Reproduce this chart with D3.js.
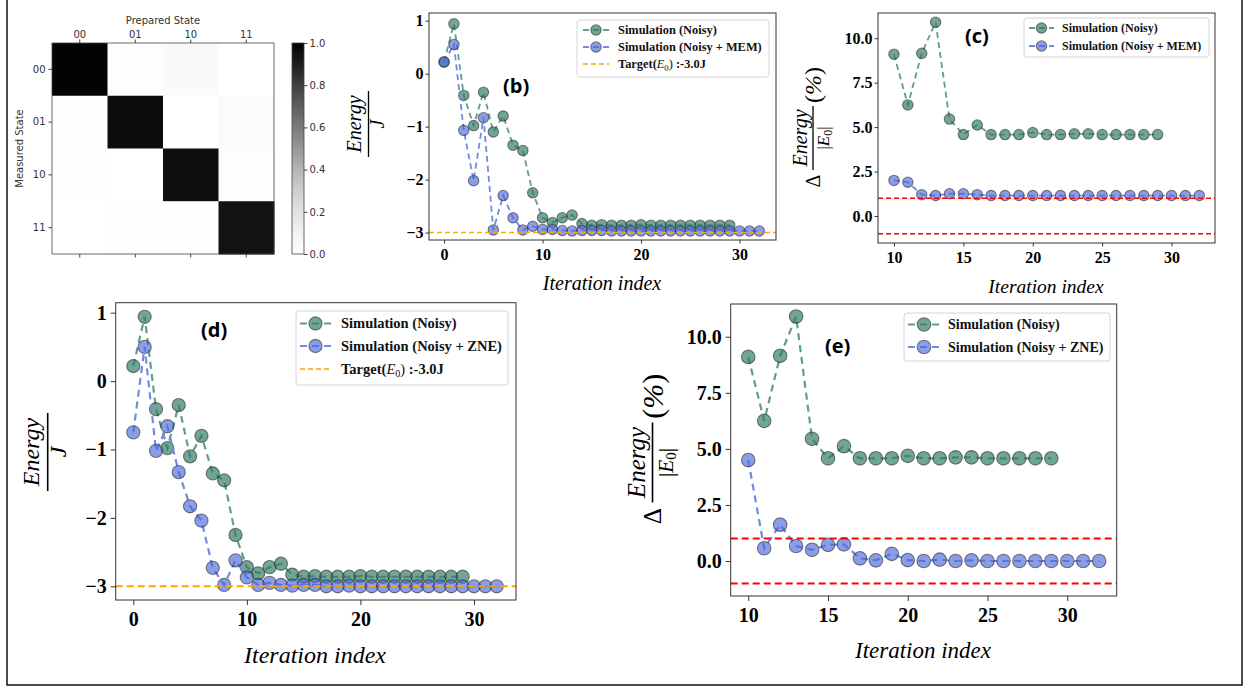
<!DOCTYPE html>
<html><head><meta charset="utf-8">
<script src="https://cdn.jsdelivr.net/npm/d3@7"></script>
<style>body{margin:0;background:#fff} svg{display:block}</style>
</head><body><svg id="fig" width="1247" height="687"></svg>
<script>
// ---------- data ----------
const stateLabels = ["00", "01", "10", "11"];
// rows = measured state, columns = prepared state
const confusion = [
  [0.99, 0.02, 0.04, 0.00],
  [0.01, 0.96, 0.00, 0.03],
  [0.01, 0.00, 0.95, 0.02],
  [0.00, 0.01, 0.01, 0.94]
];
const colorbarTicks = [0, 0.2, 0.4, 0.6, 0.8, 1.0];

const iterations = [0,1,2,3,4,5,6,7,8,9,10,11,12,13,14,15,16,17,18,19,20,21,22,23,24,25,26,27,28,29,30,31,32];
const energyNoisy = [0.22, 0.94, -0.41, -0.98, -0.35, -1.10, -0.80, -1.35, -1.45, -2.25,
  -2.72, -2.81, -2.72, -2.67, -2.83, -2.86, -2.85, -2.86, -2.86, -2.86,
  -2.85, -2.86, -2.86, -2.86, -2.86, -2.86, -2.86, -2.86, -2.86, -2.86];
const energyMEM = [0.22, 0.55, -1.07, -2.02, -0.83, -2.95, -2.30, -2.72, -2.95, -2.88,
  -2.94, -2.94, -2.96, -2.97, -2.96, -2.96, -2.96, -2.97, -2.97, -2.97,
  -2.97, -2.97, -2.97, -2.97, -2.97, -2.97, -2.97, -2.97, -2.97, -2.97, -2.97, -2.97, -2.97];
const energyZNE = [-0.75, 0.50, -1.02, -0.66, -1.33, -1.83, -2.04, -2.73, -2.98, -2.62,
  -2.87, -2.98, -2.95, -2.98, -2.99, -2.98, -2.98, -3.00, -3.00, -2.99,
  -3.00, -3.00, -3.00, -3.00, -3.00, -3.00, -3.00, -3.00, -3.00, -3.00, -3.00, -3.00, -3.00];

const deltaIterations = [10,11,12,13,14,15,16,17,18,19,20,21,22,23,24,25,26,27,28,29,30,31,32];
const deltaNoisy = [9.1, 6.25, 9.15, 10.9, 5.45, 4.58, 5.12, 4.58, 4.58, 4.58,
  4.69, 4.58, 4.58, 4.62, 4.62, 4.58, 4.58, 4.58, 4.58, 4.58];
const deltaMEM = [2.0, 1.9, 1.2, 1.15, 1.25, 1.25, 1.2, 1.15, 1.15, 1.15, 1.15, 1.15,
  1.15, 1.15, 1.15, 1.15, 1.15, 1.15, 1.15, 1.15, 1.15, 1.15, 1.15];
const deltaZNE = [4.5, 0.57, 1.62, 0.67, 0.5, 0.72, 0.74, 0.12, 0.03, 0.32, 0.04, 0.0,
  0.06, 0.0, 0.03, 0.0, 0.0, 0.0, 0.0, 0.0, 0.0, 0.0, 0.0];

const targetEnergy = -3.0;
const toleranceBand = [1, -1];
const energyTicks = [-3, -2, -1, 0, 1];
const iterTicks = [0, 10, 20, 30];
const deltaTicks = [0, 2.5, 5, 7.5, 10];
const deltaIterTicks = [10, 15, 20, 25, 30];

const legendNoisy = "Simulation (Noisy)";
const legendMEM = "Simulation (Noisy + MEM)";
const legendZNE = "Simulation (Noisy + ZNE)";

// ---------- styles ----------
const GREEN = {fill: "#2f7a66", fillOp: 0.68, line: "#5f9e8b"};
const BLUE = {fill: "#4b68d8", fillOp: 0.65, line: "#7389e2"};
const SERIF = "'Liberation Serif', 'Times New Roman', serif";

const svg = d3.select("#fig");
const defs = svg.append("defs");

// ---------- outer frame ----------
svg.append("path").attr("d", "M7,0 V685 H1242 V0")
  .attr("fill", "none").attr("stroke", "#111").attr("stroke-width", 1.5);

// ---------- panel (a): heatmap ----------
(function () {
  const x0 = 52, x1 = 274, y0 = 43, y1 = 254;
  const hx = d3.scaleBand().domain(stateLabels).range([x0, x1]);
  const hy = d3.scaleBand().domain(stateLabels).range([y0, y1]);
  const grey = d3.scaleSequential(d3.interpolateGreys).domain([0, 1]);
  const g = svg.append("g").style("font-family", "'DejaVu Sans', sans-serif");
  const cells = [];
  confusion.forEach((row, i) => row.forEach((v, j) => cells.push({m: stateLabels[i], p: stateLabels[j], v})));
  g.selectAll("rect.cell").data(cells).join("rect").attr("class", "cell")
    .attr("x", d => hx(d.p)).attr("y", d => hy(d.m))
    .attr("width", hx.bandwidth() + 0.5).attr("height", hy.bandwidth() + 0.5)
    .attr("fill", d => grey(d.v));
  g.append("rect").attr("x", x0).attr("y", y0).attr("width", x1 - x0).attr("height", y1 - y0)
    .attr("fill", "none").attr("stroke", "#444").attr("stroke-width", 0.8);

  const top = g.append("g").attr("transform", `translate(0,${y0})`)
    .call(d3.axisTop(hx).tickSize(3.5).tickPadding(2).tickSizeOuter(0));
  const bot = g.append("g").attr("transform", `translate(0,${y1})`)
    .call(d3.axisBottom(hx).tickSize(3.5).tickFormat("").tickSizeOuter(0));
  const left = g.append("g").attr("transform", `translate(${x0},0)`)
    .call(d3.axisLeft(hy).tickSize(3.5).tickPadding(3).tickSizeOuter(0));
  [top, bot, left].forEach(a => {
    a.select(".domain").remove();
    a.selectAll("line").attr("stroke", "#444");
    a.selectAll("text").attr("font-size", 10).attr("fill", "#333").style("font-family", "'DejaVu Sans', sans-serif");
  });
  g.append("text").attr("x", (x0 + x1) / 2).attr("y", 24).attr("text-anchor", "middle")
    .attr("font-size", 10).attr("fill", "#333").text("Prepared State");
  g.append("text").attr("transform", `translate(23,${(y0 + y1) / 2}) rotate(-90)`)
    .attr("text-anchor", "middle").attr("font-size", 10).attr("fill", "#333").text("Measured State");

  // colorbar
  const cbx = 292, cbw = 12;
  const cy = d3.scaleLinear().domain([0, 1]).range([y1, y0]);
  const grad = defs.append("linearGradient").attr("id", "cbgrad")
    .attr("x1", 0).attr("y1", 1).attr("x2", 0).attr("y2", 0);
  d3.range(0, 1.0001, 0.1).forEach(t => grad.append("stop").attr("offset", t).attr("stop-color", grey(t)));
  g.append("rect").attr("x", cbx).attr("y", y0).attr("width", cbw).attr("height", y1 - y0)
    .attr("fill", "url(#cbgrad)").attr("stroke", "#444").attr("stroke-width", 0.8);
  const cba = g.append("g").attr("transform", `translate(${cbx + cbw},0)`)
    .call(d3.axisRight(cy).tickValues(colorbarTicks).tickFormat(d3.format(".1f")).tickSize(3.5).tickPadding(2));
  cba.select(".domain").remove();
  cba.selectAll("line").attr("stroke", "#444");
  cba.selectAll("text").attr("font-size", 10).attr("fill", "#333").style("font-family", "'DejaVu Sans', sans-serif");
})();

// ---------- helpers ----------
function panelTag(txt, x, y) {
  svg.append("text").attr("x", x).attr("y", y).text(txt)
    .style("font-family", "'Open Sans', 'DejaVu Sans', sans-serif").attr("font-weight", 700)
    .attr("font-size", 20).attr("fill", "#000");
}

function linePanel(o) {
  const [bx0, by0, bx1, by1] = o.box;
  const x = d3.scaleLinear().domain(o.xDomain).range([bx0, bx1]);
  const y = d3.scaleLinear().domain(o.yDomain).range([by1, by0]);
  const g = svg.append("g");
  const cid = "clip" + o.id;
  defs.append("clipPath").attr("id", cid).append("rect")
    .attr("x", bx0).attr("y", by0).attr("width", bx1 - bx0).attr("height", by1 - by0);
  const plot = g.append("g").attr("clip-path", `url(#${cid})`);
  o.series.forEach(s => {
    const pts = s.xs.map((xv, i) => [xv, s.ys[i]]);
    plot.append("path").datum(pts)
      .attr("d", d3.line().x(d => x(d[0])).y(d => y(d[1])))
      .attr("fill", "none").attr("stroke", s.style.line).attr("stroke-width", o.lw)
      .attr("stroke-dasharray", o.dash);
    plot.selectAll(null).data(pts).join("circle")
      .attr("cx", d => x(d[0])).attr("cy", d => y(d[1])).attr("r", o.r)
      .attr("fill", s.style.fill).attr("fill-opacity", s.style.fillOp)
      .attr("stroke", "#222").attr("stroke-opacity", 0.55).attr("stroke-width", 1.1);
  });
  o.hlines.forEach(h => {
    plot.append("line").attr("x1", bx0).attr("x2", bx1).attr("y1", y(h.v)).attr("y2", y(h.v))
      .attr("stroke", h.color).attr("stroke-width", h.w).attr("stroke-dasharray", h.dash);
  });
  g.append("rect").attr("x", bx0).attr("y", by0).attr("width", bx1 - bx0).attr("height", by1 - by0)
    .attr("fill", "none").attr("stroke", "#333").attr("stroke-width", 1);
  const xa = g.append("g").attr("transform", `translate(0,${by1})`)
    .call(d3.axisBottom(x).tickValues(o.xTicks).tickFormat(d3.format("d")).tickSize(o.tick).tickPadding(o.xPad).tickSizeOuter(0));
  const ya = g.append("g").attr("transform", `translate(${bx0},0)`)
    .call(d3.axisLeft(y).tickValues(o.yTicks).tickFormat(o.yFmt).tickSize(o.tick).tickPadding(o.yPad).tickSizeOuter(0));
  [xa, ya].forEach(a => {
    a.select(".domain").remove();
    a.selectAll("line").attr("stroke", "#333");
    a.selectAll("text").attr("font-size", o.tfs).attr("font-weight", 700).attr("fill", "#000")
      .style("font-family", SERIF);
  });
  g.append("text").attr("x", o.xl[0]).attr("y", o.xl[1]).attr("text-anchor", "middle")
    .style("font-family", SERIF).attr("font-style", "italic").attr("font-size", o.xl[2])
    .attr("fill", "#000").text("Iteration index");

  // legend
  const L = o.legend;
  g.append("rect").attr("x", L.box[0]).attr("y", L.box[1])
    .attr("width", L.box[2] - L.box[0]).attr("height", L.box[3] - L.box[1])
    .attr("rx", 3).attr("fill", "#fff").attr("fill-opacity", 0.85)
    .attr("stroke", "#d4d4d4").attr("stroke-width", 1);
  L.items.forEach((it, i) => {
    const yy = L.rows[i];
    if (it.kind === "marker") {
      g.append("line").attr("x1", L.h0).attr("x2", L.h1).attr("y1", yy).attr("y2", yy)
        .attr("stroke", it.style.line).attr("stroke-width", o.lw).attr("stroke-dasharray", o.dash);
      g.append("circle").attr("cx", (L.h0 + L.h1) / 2).attr("cy", yy).attr("r", o.r)
        .attr("fill", it.style.fill).attr("fill-opacity", it.style.fillOp)
        .attr("stroke", "#222").attr("stroke-opacity", 0.55).attr("stroke-width", 1.1);
    } else {
      g.append("line").attr("x1", L.h0).attr("x2", L.h1).attr("y1", yy).attr("y2", yy)
        .attr("stroke", it.color).attr("stroke-width", 1.6).attr("stroke-dasharray", "5,3");
    }
    const t = g.append("text").attr("x", L.tx).attr("y", yy + L.fs * 0.33)
      .style("font-family", SERIF).attr("font-size", L.fs).attr("font-weight", 700).attr("fill", "#111");
    if (it.kind === "marker") {
      t.text(it.label);
    } else {
      t.append("tspan").text("Target(");
      t.append("tspan").attr("font-weight", 400).attr("font-style", "italic").text("E");
      t.append("tspan").attr("font-weight", 400).attr("font-size", L.fs * 0.7).attr("dy", L.fs * 0.2).text("0");
      t.append("tspan").attr("dy", -L.fs * 0.2).attr("font-weight", 400).text(")");
      t.append("tspan").text(" :-3.0J");
    }
  });
  return {x, y};
}

function energyLabel(cx, cy, fs, barW) {
  const g = svg.append("g").attr("transform", `translate(${cx},${cy}) rotate(-90)`)
    .style("font-family", SERIF).attr("fill", "#000");
  g.append("text").attr("x", 0).attr("y", -0.36 * fs).attr("text-anchor", "middle")
    .attr("font-size", fs).attr("font-style", "italic").text("Energy");
  g.append("line").attr("x1", -barW / 2).attr("x2", barW / 2).attr("y1", 0).attr("y2", 0)
    .attr("stroke", "#000").attr("stroke-width", fs / 15);
  g.append("text").attr("x", 0).attr("y", 0.75 * fs).attr("text-anchor", "middle")
    .attr("font-size", fs).attr("font-style", "italic").text("J");
}

function deltaLabel(cx, cy, s) {
  const g = svg.append("g").attr("transform", `translate(${cx},${cy}) rotate(-90)`)
    .style("font-family", SERIF).attr("fill", "#000");
  g.append("text").attr("x", -53 * s).attr("y", 7 * s).attr("text-anchor", "middle")
    .attr("font-size", 20 * s).text("Δ");
  g.append("text").attr("x", -10 * s).attr("y", -6 * s).attr("text-anchor", "middle")
    .attr("font-size", 20 * s).attr("font-style", "italic").text("Energy");
  g.append("line").attr("x1", -42 * s).attr("x2", 22 * s).attr("y1", 0).attr("y2", 0)
    .attr("stroke", "#000").attr("stroke-width", 1.3 * s);
  const den = g.append("text").attr("x", -10 * s).attr("y", 16 * s).attr("text-anchor", "middle")
    .attr("font-size", 17 * s);
  den.append("tspan").text("|");
  den.append("tspan").attr("font-style", "italic").text("E");
  den.append("tspan").attr("font-size", 12 * s).attr("dy", 3 * s).text("0");
  den.append("tspan").attr("dy", -3 * s).text("|");
  const pc = g.append("text").attr("x", 25 * s).attr("y", 8 * s).attr("font-size", 24 * s);
  pc.append("tspan").text("(");
  pc.append("tspan").attr("font-style", "italic").text("%");
  pc.append("tspan").text(")");
}

const fmtInt = d3.format("d");
const fmt1 = d3.format(".1f");

// ---------- panel (b) ----------
linePanel({
  id: "b", box: [429, 13, 776, 240], xDomain: [-1.53, 33.7], yDomain: [-3.14, 1.145],
  xTicks: iterTicks, yTicks: energyTicks, yFmt: fmtInt, tick: 3.5, xPad: 5, yPad: 2, tfs: 16,
  r: 5.2, lw: 1.8, dash: "6,4",
  series: [
    {xs: iterations.slice(0, energyNoisy.length), ys: energyNoisy, style: GREEN},
    {xs: iterations, ys: energyMEM, style: BLUE}
  ],
  hlines: [{v: targetEnergy, color: "orange", w: 1.5, dash: "5,3"}],
  xl: [602, 290, 20],
  legend: {box: [577, 20, 769, 77], rows: [30, 47, 64], h0: 583, h1: 609, tx: 618, fs: 12.4,
    items: [{kind: "marker", style: GREEN, label: legendNoisy},
            {kind: "marker", style: BLUE, label: legendMEM},
            {kind: "target", color: "orange"}]}
});
energyLabel(368.5, 124, 20, 66);
panelTag("(b)", 503, 93);

// ---------- panel (c) ----------
linePanel({
  id: "c", box: [878, 13, 1215, 243], xDomain: [8.85, 33.13], yDomain: [-1.52, 11.42],
  xTicks: deltaIterTicks, yTicks: deltaTicks, yFmt: fmt1, tick: 3.5, xPad: 5, yPad: 2, tfs: 16,
  r: 5.2, lw: 1.8, dash: "6,4",
  series: [
    {xs: deltaIterations.slice(0, deltaNoisy.length), ys: deltaNoisy, style: GREEN},
    {xs: deltaIterations, ys: deltaMEM, style: BLUE}
  ],
  hlines: toleranceBand.map(v => ({v, color: "red", w: 1.5, dash: "5,3"})),
  xl: [1046, 293, 19.5],
  legend: {box: [1024, 18, 1209, 57], rows: [28, 46], h0: 1029, h1: 1054, tx: 1062, fs: 12,
    items: [{kind: "marker", style: GREEN, label: legendNoisy},
            {kind: "marker", style: BLUE, label: legendMEM}]}
});
deltaLabel(813, 128, 1);
panelTag("(c)", 965, 43);

// ---------- panel (d) ----------
linePanel({
  id: "d", box: [115.7, 302.7, 516, 600], xDomain: [-1.55, 33.7], yDomain: [-3.2, 1.146],
  xTicks: iterTicks, yTicks: energyTicks, yFmt: fmtInt, tick: 5, xPad: 7, yPad: 4, tfs: 20,
  r: 6.6, lw: 2.2, dash: "7,5",
  series: [
    {xs: iterations.slice(0, energyNoisy.length), ys: energyNoisy, style: GREEN},
    {xs: iterations, ys: energyZNE, style: BLUE}
  ],
  hlines: [{v: targetEnergy, color: "orange", w: 2, dash: "7,4"}],
  xl: [315, 663, 24],
  legend: {box: [296, 311, 508, 385], rows: [323.5, 346, 369], h0: 300, h1: 331, tx: 341, fs: 14.5,
    items: [{kind: "marker", style: GREEN, label: legendNoisy},
            {kind: "marker", style: BLUE, label: legendZNE},
            {kind: "target", color: "orange"}]}
});
energyLabel(47.7, 452, 24, 78);
panelTag("(d)", 201, 337);

// ---------- panel (e) ----------
linePanel({
  id: "e", box: [730.7, 304, 1116.7, 596], xDomain: [8.9, 33.1], yDomain: [-1.56, 11.46],
  xTicks: deltaIterTicks, yTicks: deltaTicks, yFmt: fmt1, tick: 5, xPad: 7, yPad: 4, tfs: 20,
  r: 6.8, lw: 2.2, dash: "7,5",
  series: [
    {xs: deltaIterations.slice(0, deltaNoisy.length), ys: deltaNoisy, style: GREEN},
    {xs: deltaIterations, ys: deltaZNE, style: BLUE}
  ],
  hlines: toleranceBand.map(v => ({v, color: "red", w: 2, dash: "7,4"})),
  xl: [923, 658, 23],
  legend: {box: [904, 313, 1110, 361], rows: [324.5, 347], h0: 908, h1: 940, tx: 948, fs: 14,
    items: [{kind: "marker", style: GREEN, label: legendNoisy},
            {kind: "marker", style: BLUE, label: legendZNE}]}
});
deltaLabel(652.5, 450, 1.25);
panelTag("(e)", 825, 353);
</script>
</body></html>
